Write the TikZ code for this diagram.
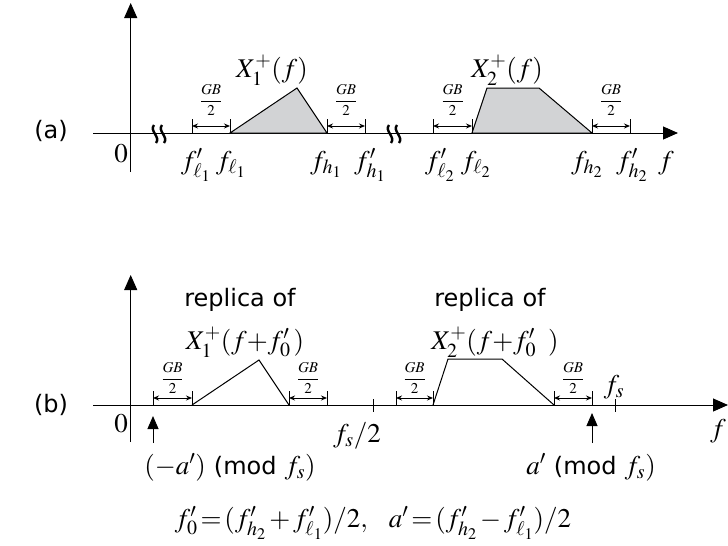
\documentclass[tikz,border=0pt]{standalone}
\usepackage{mathptmx}
\usepackage[no-math]{fontspec}
\newfontfamily\labfont{DejaVu Sans}
\usetikzlibrary{arrows.meta}
\definecolor{specgray}{HTML}{D2D3D5}
\begin{document}
\begin{tikzpicture}[x=1pt,y=-1pt,
  axis/.style={line width=1pt,-{Triangle[width=13pt,length=15pt]}},
  uparrow/.style={line width=1pt,-{Triangle[width=11pt,length=13pt]}},
  gbarrow/.style={line width=0.9pt,{Stealth[length=6pt,width=5pt]}-{Stealth[length=6pt,width=5pt]}},
  tickline/.style={line width=0.9pt},
  spec/.style={line width=1pt,line join=miter},
  brk/.style={line width=2.4pt},
  lab/.style={font=\fontsize{27}{30}\selectfont,inner sep=0pt},
  gblab/.style={font=\fontsize{15}{16}\selectfont,inner sep=0pt},
  txt/.style={font=\labfont\fontsize{24}{27}\selectfont,inner sep=0pt}]
\useasboundingbox (0,0) rectangle (728,546);
\newcommand\gbmark[5]{% x1, x2, baseline y, name, label y
  \coordinate (#4l0) at (#1,#3); \coordinate (#4l1) at (#1,#3-14);
  \coordinate (#4r0) at (#2,#3); \coordinate (#4r1) at (#2,#3-14);
  \coordinate (#4a) at (#1,#3-7); \coordinate (#4b) at (#2,#3-7);
  \draw[tickline] (#4l0) -- (#4l1);
  \draw[tickline] (#4r0) -- (#4r1);
  \draw[gbarrow] (#4a) -- (#4b);
  \node[gblab] (#4t) at ({(#1+#2)/2},#5) {$\displaystyle\frac{GB}{2}$};}
\newcommand\brkmark[2]{%
  \draw[brk] (#1-1,#2-9) .. controls (#1-6,#2-3) and (#1+6,#2+3) .. (#1+1,#2+9);}
% ---------------- panel (a)
\node[txt] (la) at (51,131) {(a)};
\coordinate (ya0) at (130.7,172); \coordinate (ya1) at (130.7,3);
\draw[axis] (ya0) -- (ya1);
\coordinate (xa0) at (93,133); \coordinate (xa1) at (678,133);
\draw[axis] (xa0) -- (xa1);
\brkmark{155}{134}\brkmark{163}{134}
\brkmark{390}{134}\brkmark{398}{134}
\draw[spec,fill=specgray] (230,133) -- (297,88) -- (327,133) -- cycle;
\draw[spec,fill=specgray] (472,133) -- (487,88) -- (539,88) -- (592,133) -- cycle;
\gbmark{192}{230}{133}{ga1}{100}
\gbmark{327}{365}{133}{ga2}{100}
\gbmark{433}{472}{133}{ga3}{100}
\gbmark{592}{630}{133}{ga4}{100}
\node[lab,anchor=base] (x1) at (272,77) {$X_1^+(f)$};
\node[lab,anchor=base] (x2) at (507,77) {$X_2^+(f)$};
\node[lab,anchor=base] (z0) at (121,162) {$0$};
\node[lab,anchor=base] (fl1p) at (196,169) {$f^{\prime}_{\ell_1}$};
\node[lab,anchor=base] (fl1) at (231,169) {$f_{\ell_1}$};
\node[lab,anchor=base] (fh1) at (326,169) {$f_{h_1}$};
\node[lab,anchor=base] (fh1p) at (370,169) {$f^{\prime}_{h_1}$};
\node[lab,anchor=base] (fl2p) at (440,169) {$f^{\prime}_{\ell_2}$};
\node[lab,anchor=base] (fl2) at (476,169) {$f_{\ell_2}$};
\node[lab,anchor=base] (fh2) at (587,169) {$f_{h_2}$};
\node[lab,anchor=base] (fh2p) at (632,169) {$f^{\prime}_{h_2}$};
\node[lab,anchor=base] (fa) at (666,169) {$f$};
% ---------------- panel (b)
\node[txt] (lb) at (51,405) {(b)};
\coordinate (yb0) at (130.7,442); \coordinate (yb1) at (130.7,275);
\draw[axis] (yb0) -- (yb1);
\coordinate (xb0) at (93,405); \coordinate (xb1) at (728,405);
\draw[axis] (xb0) -- (xb1);
\draw[spec] (192,405) -- (259,360) -- (289,405);
\draw[spec] (433,405) -- (448,359) -- (502,359) -- (554,405);
\gbmark{153}{192}{405}{gb1}{378}
\gbmark{289}{327}{405}{gb2}{378}
\gbmark{396}{433}{405}{gb3}{378}
\gbmark{554}{592}{405}{gb4}{378}
\coordinate (t1a) at (373,399); \coordinate (t1b) at (373,412);
\draw[tickline] (t1a) -- (t1b);
\coordinate (t2a) at (615,399); \coordinate (t2b) at (615,412);
\draw[tickline] (t2a) -- (t2b);
\coordinate (u1a) at (153,443); \coordinate (u1b) at (153,416);
\draw[uparrow] (u1a) -- (u1b);
\coordinate (u2a) at (592,443); \coordinate (u2b) at (592,413);
\draw[uparrow] (u2a) -- (u2b);
\node[txt,anchor=base] (r1) at (240,306) {replica of};
\node[txt,anchor=base] (r2) at (490,306) {replica of};
\node[lab,anchor=base] (x1b) at (245,349) {$X_1^+(f\mathord{+}f^{\prime}_0\,)$};
\node[lab,anchor=base] (x2b) at (495,349) {$X_2^+(f\mathord{+}f^{\prime}_0\;\;)$};
\node[lab,anchor=base] (z0b) at (121,432) {$0$};
\node[lab,anchor=base] (fs2) at (357,442) {$f_s/2$};
\node[lab,anchor=base] (fs) at (614,393) {$f_s$};
\node[lab,anchor=base] (fb) at (718,437) {$f$};
\node[lab,anchor=base] (ma) at (230,474) {$(-a^{\prime})$ {\labfont\fontsize{24}{27}\selectfont(mod} $f_s)$};
\node[lab,anchor=base] (mb) at (591,474) {$a^{\prime}$ {\labfont\fontsize{24}{27}\selectfont(mod} $f_s)$};
\node[lab,anchor=base] (eq) at (373,527) {$f^{\prime}_0\mskip2mu{=}\mskip2mu(f^{\prime}_{h_2}\mskip2mu{+}\mskip2mu f^{\prime}_{\ell_1})/2,\;\;\; a^{\prime}\mskip2mu{=}\mskip2mu(f^{\prime}_{h_2}\mskip2mu{-}\mskip2mu f^{\prime}_{\ell_1})/2$};
\end{tikzpicture}
\end{document}
